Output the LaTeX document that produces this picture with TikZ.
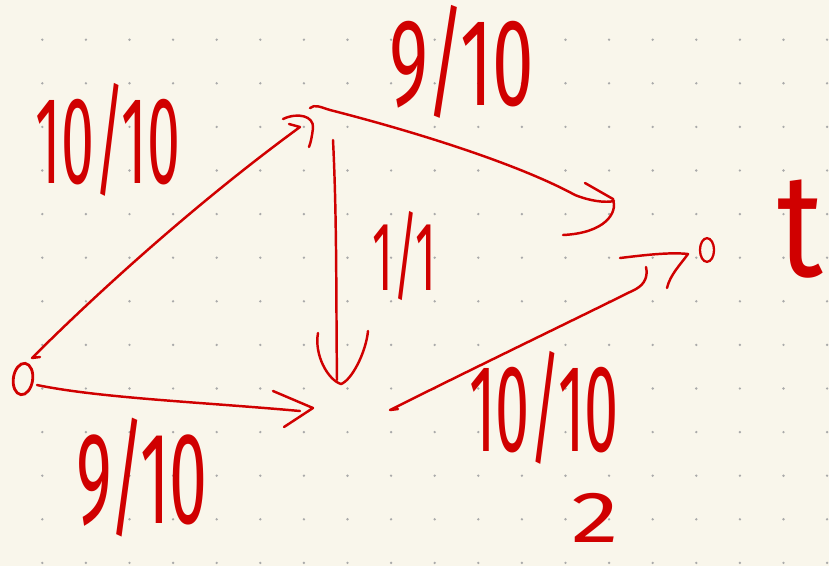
\documentclass[tikz,border=0pt]{standalone}
\usepackage{fontspec}
\setmainfont{Fira Sans}
\usepackage{graphicx}
\usetikzlibrary{shapes.geometric}
\definecolor{paper}{RGB}{249,246,235}
\definecolor{ink}{RGB}{208,0,0}
\definecolor{dotc}{RGB}{170,170,170}
\newcommand\handlbl[3]{\resizebox{#1pt}{#2pt}{#3}}
\tikzset{
  inkline/.style={draw=ink, line width=1.4pt, line cap=round, line join=round},
  vertex/.style={draw=ink, ellipse, line width=1.6pt, inner sep=0pt},
  lbl/.style={text=ink, inner sep=0pt}
}
\begin{document}
\begin{tikzpicture}[x=0.02cm, y=-0.02cm]
\useasboundingbox (0,0) rectangle (829,566);
\fill[paper] (0,0) rectangle (829,566);
% dot grid
\foreach \i in {0,...,18}{
  \foreach \j in {0,...,12}{
    \fill[dotc] (42.3+43.6*\i, 39.7+43.6*\j) circle (0.75pt);
  }
}
% vertices
\node[vertex, minimum width=11pt, minimum height=18pt, rotate=-8] (s) at (23,379) {};
\coordinate (a) at (308,118);
\coordinate (b) at (338,395);
\node[vertex, line width=1.3pt, minimum width=8pt, minimum height=13.5pt] (t) at (707,250) {};
% connector ends
\coordinate (sA) at (32,358);
\coordinate (aA) at (300,127);
\coordinate (aB) at (310,108);
\coordinate (tB) at (614,201);
\coordinate (aC) at (333,140);
\coordinate (bC) at (337,380);
\coordinate (sD) at (37,385);
\coordinate (bD) at (300,411);
\coordinate (bE) at (390,410);
\coordinate (tE) at (646,267);
% edge s -> a
\draw[inkline] (40,357) -- (sA) .. controls (100,290) and (200,200) .. (aA) -- (289,124);
\draw[inkline] (283,119) .. controls (298,112) and (314,116) .. (313,128) .. controls (312,136) and (311,142) .. (309,147);
% edge a -> t (top)
\draw[inkline] (aB) .. controls (315,104) and (320,107) .. (330,110) .. controls (420,133) and (520,165) .. (575,195) .. controls (590,201) and (605,203) .. (tB);
\draw[inkline] (585,183) -- (613,199) .. controls (618,213) and (605,233) .. (563,235);
% edge a -> b
\draw[inkline] (aC) .. controls (337,220) and (336,300) .. (bC);
\draw[inkline] (318,333) .. controls (314,355) and (328,380) .. (341,384) .. controls (352,380) and (366,352) .. (368,331);
% edge s -> b
\draw[inkline] (sD) .. controls (100,398) and (200,402) .. (bD);
\draw[inkline] (273,391) -- (313,408) -- (284,427);
% edge b -> t
\draw[inkline] (398,409) -- (bE) .. controls (480,365) and (590,312) .. (636,289) .. controls (645,284) and (648,276) .. (tE);
\draw[inkline] (620,258) .. controls (645,255) and (670,252) .. (688,254) .. controls (680,265) and (670,275) .. (667,288);
% labels
\node[lbl] (l1) at (108,140) {\handlbl{82}{57}{10/10}};
\node[lbl] (l2) at (462,62) {\handlbl{82}{57}{9/10}};
\node[lbl] (l3) at (404,256) {\handlbl{36}{45}{1/1}};
\node[lbl] (l4) at (142,478) {\handlbl{75}{60}{9/10}};
\node[lbl] (l5) at (544,408) {\handlbl{85}{57}{10/10}};
\node[lbl] (l6) at (595,518) {\handlbl{27}{28}{2}};
\node[lbl] (tl) at (800,229) {\handlbl{26}{55}{t}};
\end{tikzpicture}
\end{document}
